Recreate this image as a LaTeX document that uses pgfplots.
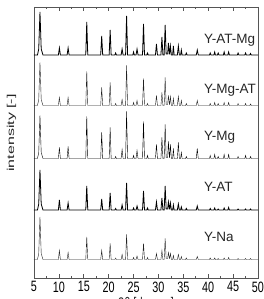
\documentclass[border=0pt]{standalone}
\usepackage{fontspec}
\setmainfont{Liberation Sans}
\newfontfamily\tickfont{Liberation Sans}[FakeStretch=0.72]
\usepackage{pgfplots}
\usepackage{pgfplotstable}
\pgfplotsset{compat=1.18}
\pgfplotstableread{
x na at mg mgat atmg
5 0 0 0 0 0
5.7 0 0 0 0 0
5.95 6 6 6 6 6
6.2 42.5 40 43 43 43
6.45 6 6 6 6 6
6.8 0 0 0 0 0
9.9 0 0 0 0 0
10.1 9 10 11 8 7
10.3 0 0 0 0 0
11.65 0 0 0 0 0
11.85 7 7 12 8 7
12.05 0 0 0 0 0
15.4 0 0 0 0 0
15.6 22.6 24 42 34 33
15.8 0 0 0 0 0
18.4 0 0 0 0 0
18.6 9 11 26 18 19
18.8 0 0 0 0 0
20.1 0 0 0 0 0
20.3 16 17 31 23 25
20.5 0 0 0 0 0
21.25 0 0 0 0 0
21.4 1.5 1.5 2 2 2
21.55 0 0 0 0 0
22.5 0 0 0 0 0
22.7 5 5 9 6 6
22.9 0 0 0 0 0
23.4 0 0 0 0 0
23.6 25 27 47 40 39
23.8 0 0 0 0 0
24.85 0 0 0 0 0
25.0 2 2 3 3 3
25.15 0 0 0 0 0
25.5 0 0 0 0 0
25.7 3.5 4 8 5 6
25.9 0 0 0 0 0
26.8 0 0 0 0 0
27.0 16 19 37 27 31
27.2 0 0 0 0 0
27.65 0 0 0 0 0
27.8 2 2 3 2 2
27.95 0 0 0 0 0
29.4 0 0 0 0 0
29.6 6 8 14 10 11
29.8 0 0 0 0 0
30.5 0 0 0 0 0
30.7 9 12 21 13 18
30.9 0 0 0 0 0
31.15 0 0 0 0 0
31.35 21 24 34 28 30
31.55 1 1 1 1 1
31.85 1 1 1 1 1
32.0 7 8 17 10 12
32.2 1 1 1 1 1
32.25 1 1 1 1 1
32.4 6 7 14 9 9
32.6 0 0 0 0 0
32.85 0 0 0 0 0
33.0 4 5 10 7 9
33.15 0 0 0 0 0
33.8 0 0 0 0 0
34.0 5 6 16 9 9
34.2 0 0 0 0 0
34.45 0 0 0 0 0
34.6 3 3 6 5 5
34.75 0 0 0 0 0
35.45 0 0 0 0 0
35.6 1.5 1.5 2 2 2
35.75 0 0 0 0 0
37.6 0 0 0 0 0
37.8 3 4 10 5 5
38.0 0 0 0 0 0
40.25 0 0 0 0 0
40.4 1.5 1.5 3 2 2
40.55 0 0 0 0 0
41.15 0 0 0 0 0
41.3 1.5 2 4 3 3
41.45 0 0 0 0 0
41.85 0 0 0 0 0
42.0 1 1 2 2 2
42.15 0 0 0 0 0
43.05 0 0 0 0 0
43.2 1.5 2 4 3 3
43.35 0 0 0 0 0
43.95 0 0 0 0 0
44.1 2 2.5 4 3 3
44.25 0 0 0 0 0
45.85 0 0 0 0 0
46.0 1 1 2 2 2
46.15 0 0 0 0 0
47.35 0 0 0 0 0
47.5 1 1 3 2 2
47.65 0 0 0 0 0
48.35 0 0 0 0 0
48.5 1 1 2 1.5 1.5
48.65 0 0 0 0 0
50 0 0 0 0 0
}\xrd
\definecolor{frame}{HTML}{555555}
\definecolor{trace}{HTML}{222222}
\begin{document}
\begin{tikzpicture}
\useasboundingbox (-34pt,-21pt) rectangle (230pt,278pt);
\begin{axis}[
  at={(0,0)}, anchor=south west,
  scale only axis, width=224pt, height=271pt,
  xmin=5, xmax=50, ymin=0, ymax=271,
  xtick={5,10,...,50}, minor x tick num=1,
  ytick=\empty,
  tick align=inside,
  major tick length=4pt, minor tick length=2.5pt,
  axis line style={frame, line width=0.8pt},
  every tick/.style={frame, line width=0.6pt},
  xticklabel style={font=\tickfont\fontsize{15}{15}\selectfont, text=black},
  /pgf/number format/assume math mode=true,
  cycle list={{trace, line width=0.8pt, no markers}},
]
\addplot table[x=x, y expr=\thisrow{na}+18.5] {\xrd};
\addplot table[x=x, y expr=\thisrow{at}+68] {\xrd};
\addplot table[x=x, y expr=\thisrow{mg}+119.5] {\xrd};
\addplot table[x=x, y expr=\thisrow{mgat}+172.5] {\xrd};
\addplot table[x=x, y expr=\thisrow{atmg}+223] {\xrd};
\begin{scope}[every node/.style={anchor=west, inner sep=0pt, font=\fontsize{13.5}{13.5}\selectfont, text=black!85}]
\node at (axis cs:39.15,238) {Y-AT-Mg};
\node at (axis cs:39.15,188) {Y-Mg-AT};
\node at (axis cs:39.15,141) {Y-Mg};
\node at (axis cs:39.15,91) {Y-AT};
\node at (axis cs:39.15,41) {Y-Na};
\end{scope}
\end{axis}
\node[rotate=90, inner sep=0pt, font=\fontsize{10}{10}\selectfont, text=black!85] at (-22.5pt,145pt) {\scalebox{1.6}[1]{intensity [-]}};
\node[anchor=north, inner sep=0pt, font=\fontsize{11}{11}\selectfont, text=black!85] at (112pt,-19pt) {\scalebox{1}[1.4]{2θ [degree]}};
\end{tikzpicture}
\end{document}
